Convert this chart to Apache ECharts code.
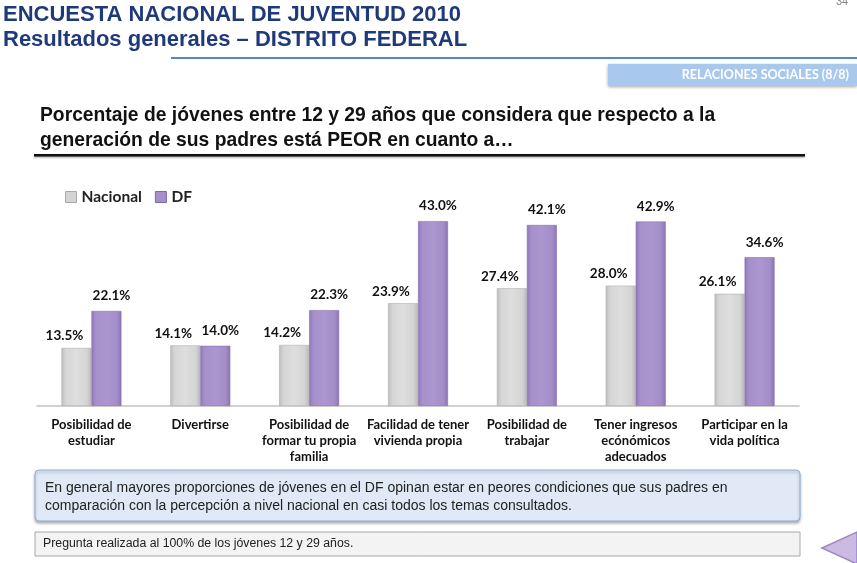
<!DOCTYPE html>
<html><head><meta charset="utf-8">
<script src="https://cdn.jsdelivr.net/npm/echarts@6/dist/echarts.min.js"></script>
<style>html,body{margin:0;padding:0;background:#fff}#c{width:857px;height:563px}</style>
</head><body><div id="c"></div>
<script>
const categories = ["Posibilidad de\nestudiar","Divertirse","Posibilidad de\nformar tu propia\nfamilia","Facilidad de tener\nvivienda propia","Posibilidad de\ntrabajar","Tener ingresos\necónómicos\nadecuados","Participar en la\nvida política"];
const nacional = [13.5,14.1,14.2,23.9,27.4,28.0,26.1];
const df = [22.1,14.0,22.3,43.0,42.1,42.9,34.6];
const seriesNames = ["Nacional","DF"];

const chart = echarts.init(document.getElementById('c'), null, {renderer:'canvas'});
const grayGrad = new echarts.graphic.LinearGradient(0,0,1,0,[{offset:0,color:'#bdbdbd'},{offset:0.15,color:'#d6d6d6'},{offset:0.5,color:'#dedede'},{offset:0.85,color:'#d4d4d4'},{offset:1,color:'#b8b8b8'}]);
const purpGrad = new echarts.graphic.LinearGradient(0,0,1,0,[{offset:0,color:'#8e77b8'},{offset:0.15,color:'#a690cb'},{offset:0.5,color:'#ab96cf'},{offset:0.85,color:'#a38dc8'},{offset:1,color:'#8a73b3'}]);
const labelBase = {show:true, position:'top', fontFamily:'Lato', fontWeight:'bold', fontSize:13.5, color:'#111', formatter: p => p.value.toFixed(1)+'%'};

chart.setOption({
  animation:false,
  grid:{left:37, right:58, top:191, bottom:157},
  legend:{left:60, top:184, itemWidth:11, itemHeight:11, icon:'rect', itemGap:13,
    textStyle:{fontFamily:'Lato', fontWeight:'bold', fontSize:15.5, color:'#222'},
    data:[{name:seriesNames[0], itemStyle:{color:'#d4d4d4', borderColor:'#a8a8a8', borderWidth:1}},{name:seriesNames[1], itemStyle:{color:'#a690cb', borderColor:'#7d68a8', borderWidth:1}}]},
  xAxis:{type:'category', data:categories,
    axisLine:{show:true, lineStyle:{color:'#c4c4c4', width:1.5}}, axisTick:{show:false},
    axisLabel:{interval:0, margin:11, fontFamily:'Lato', fontWeight:'bold', fontSize:13, color:'#111', lineHeight:16}},
  yAxis:{type:'value', min:0, max:50, show:false, splitLine:{show:false}},
  series:[
    {name:seriesNames[0], type:'bar', data:nacional, barWidth:30, barGap:'0%',
      itemStyle:{color:grayGrad, borderColor:'#b0b0b0', borderWidth:0.6},
      label:Object.assign({}, labelBase, {offset:[-12,0]})},
    {name:seriesNames[1], type:'bar', data:df, barWidth:30, barGap:'0%',
      itemStyle:{color:purpGrad, borderColor:'#8670b0', borderWidth:0.6},
      label:Object.assign({}, labelBase, {offset:[5,-3]})}
  ],
  graphic:[
    {type:'text', left:3, top:4, style:{text:'ENCUESTA NACIONAL DE JUVENTUD 2010', fontFamily:'Liberation Sans', fontWeight:'bold', fontSize:22, fill:'#1f3a7a'}},
    {type:'text', left:3, top:29, style:{text:'Resultados generales – DISTRITO FEDERAL', fontFamily:'Liberation Sans', fontWeight:'bold', fontSize:22, fill:'#1f3a7a'}},
    {type:'rect', shape:{x:171, y:57, width:686, height:2}, style:{fill:'#5b86c4'}},
    {type:'text', left:836, top:-4, style:{text:'34', fontFamily:'Liberation Sans', fontSize:11, fill:'#888'}},
    {type:'rect', shape:{x:608, y:64, width:249, height:22}, style:{fill:'#a9c8ee', shadowBlur:3, shadowColor:'rgba(0,0,0,0.35)', shadowOffsetY:1}},
    {type:'text', right:8, top:68, style:{text:'RELACIONES SOCIALES (8/8)', fontFamily:'Lato', fontWeight:'bold', fontSize:12.5, fill:'#ffffff'}},
    {type:'text', left:40, top:103, style:{text:'Porcentaje de jóvenes entre 12 y 29 años que considera que respecto a la\ngeneración de sus padres está PEOR en cuanto a…', fontFamily:'Liberation Sans', fontWeight:'bold', fontSize:19.3, lineHeight:25, fill:'#111'}},
    {type:'rect', shape:{x:34, y:154, width:771, height:2.5}, style:{fill:'#111', shadowBlur:2, shadowColor:'rgba(0,0,0,0.4)', shadowOffsetY:1}},
    {type:'rect', shape:{x:35, y:470, width:765, height:51, r:4}, style:{fill:'#e0e9f5', stroke:'#8eaed8', lineWidth:1, shadowBlur:3, shadowColor:'rgba(0,0,0,0.3)', shadowOffsetY:2}},
    {type:'text', left:45, top:479, style:{text:'En general mayores proporciones de jóvenes en el DF opinan estar en peores condiciones que sus padres en\ncomparación con la percepción a nivel nacional en casi todos los temas consultados.', fontFamily:'Liberation Sans', fontSize:14, lineHeight:18, fill:'#222'}},
    {type:'rect', shape:{x:35, y:532, width:765, height:24}, style:{fill:'#f3f3f3', stroke:'#a8a8a8', lineWidth:1}},
    {type:'text', left:43, top:538, style:{text:'Pregunta realizada al 100% de los jóvenes 12 y 29 años.', fontFamily:'Liberation Sans', fontSize:12.3, fill:'#222'}},
    {type:'polygon', shape:{points:[[822,548],[857,532],[857,564]]}, style:{fill:'#cbbbe3', stroke:'#9d88c6', lineWidth:1.5}}
  ]
});
</script></body></html>
